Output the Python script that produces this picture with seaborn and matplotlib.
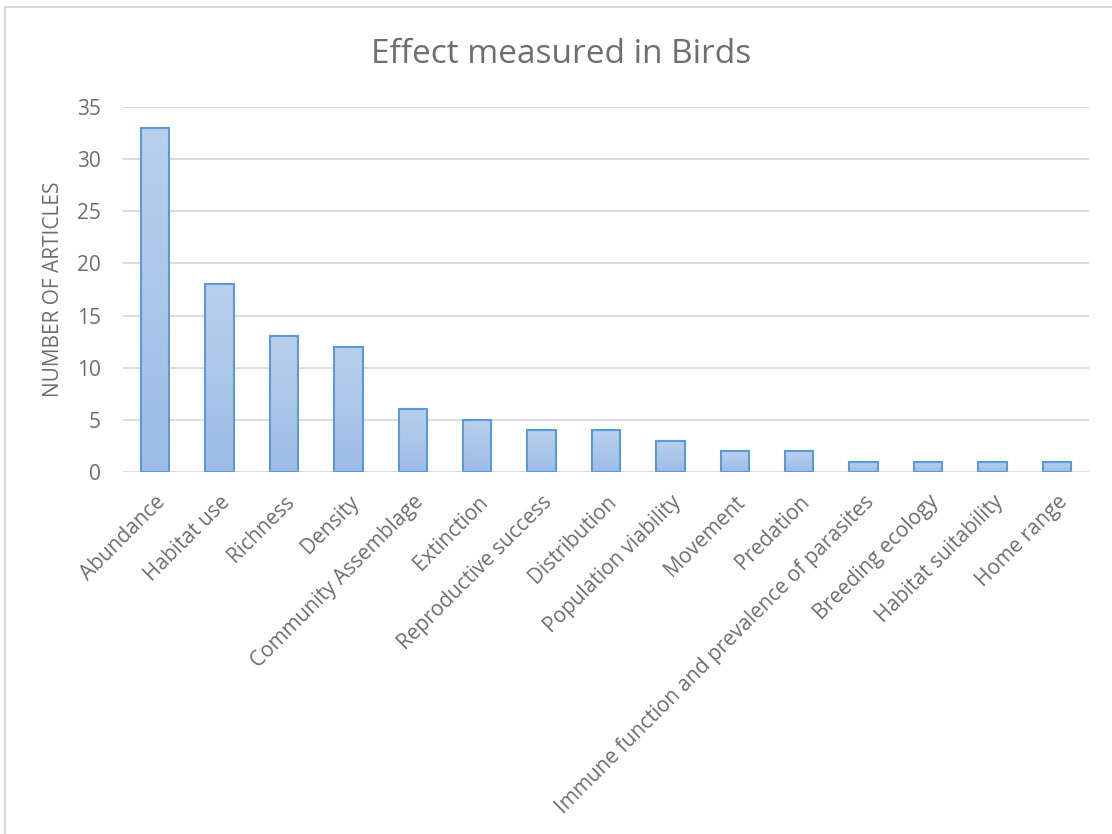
import matplotlib
matplotlib.use("Agg")
import matplotlib.pyplot as plt
import seaborn as sns
import numpy as np
import pandas as pd
from matplotlib.patches import Rectangle
from matplotlib.colors import LinearSegmentedColormap

categories = ["Abundance", "Habitat use", "Richness", "Density", "Community Assemblage",
              "Extinction", "Reproductive success", "Distribution", "Population viability",
              "Movement", "Predation", "Immune function and prevalence of parasites",
              "Breeding ecology", "Habitat suitability", "Home range"]
values = [33, 18, 13, 12, 6, 5, 4, 4, 3, 2, 2, 1, 1, 1, 1]
yticks = [0, 5, 10, 15, 20, 25, 30, 35]

sns.set_theme(style="white")
plt.rcParams['font.family'] = ['Open Sans', 'DejaVu Sans']
txt = "#6e6e6e"

df = pd.DataFrame({"cat": categories, "val": values})
fig = plt.figure(figsize=(11.12, 8.34), dpi=100)
ax = fig.add_axes([0.1106, 0.434, 0.8687, 0.4377])
sns.barplot(data=df, x="cat", y="val", ax=ax, width=0.44, color="#a9c5e8",
            edgecolor="#5b9bd5", linewidth=1.5, zorder=3)

# gradient fill inside each bar
grad = np.linspace(0, 1, 256).reshape(-1, 1)
cmap = LinearSegmentedColormap.from_list("g", ["#9dbde6", "#b8d0ec"])
for p in ax.patches:
    x0, y0 = p.get_x(), p.get_y()
    w, h = p.get_width(), p.get_height()
    im = ax.imshow(grad, extent=[x0, x0 + w, y0, y0 + h], origin="lower", aspect="auto",
                   cmap=cmap, zorder=3.5)
    im.set_clip_path(p)
    p.set_facecolor("none")
    p.set_zorder(4)

ax.set_xlim(-0.5, len(categories) - 0.5)
ax.set_ylim(0, 35)
ax.set_yticks(yticks)
ax.set_yticklabels([str(t) for t in yticks], fontsize=15, color=txt)
ax.yaxis.grid(True, color="#d9d9d9", linewidth=1.3, zorder=0)
ax.set_axisbelow(True)
for s in ax.spines.values():
    s.set_visible(False)
ax.tick_params(axis="y", length=0, pad=16)
ax.tick_params(axis="x", length=0, pad=14)
ax.set_xticks(range(len(categories)))
ax.set_xticklabels(categories, rotation=45, ha="right", rotation_mode="anchor",
                   fontsize=15, color=txt)
ax.set_xlabel("")
ax.set_ylabel("NUMBER OF ARTICLES", fontsize=15, color=txt, labelpad=9)
fig.text(0.505, 1 - 63 / 834, "Effect measured in Birds", ha="center", va="baseline",
         fontsize=24, color=txt)

fig.patches.append(Rectangle((5 / 1112, -0.1), 1.2, 1 - 7 / 834 + 0.1, transform=fig.transFigure,
                             fill=False, edgecolor="#d9d9d9", linewidth=1.5))
fig.savefig("out.png", dpi=100)
